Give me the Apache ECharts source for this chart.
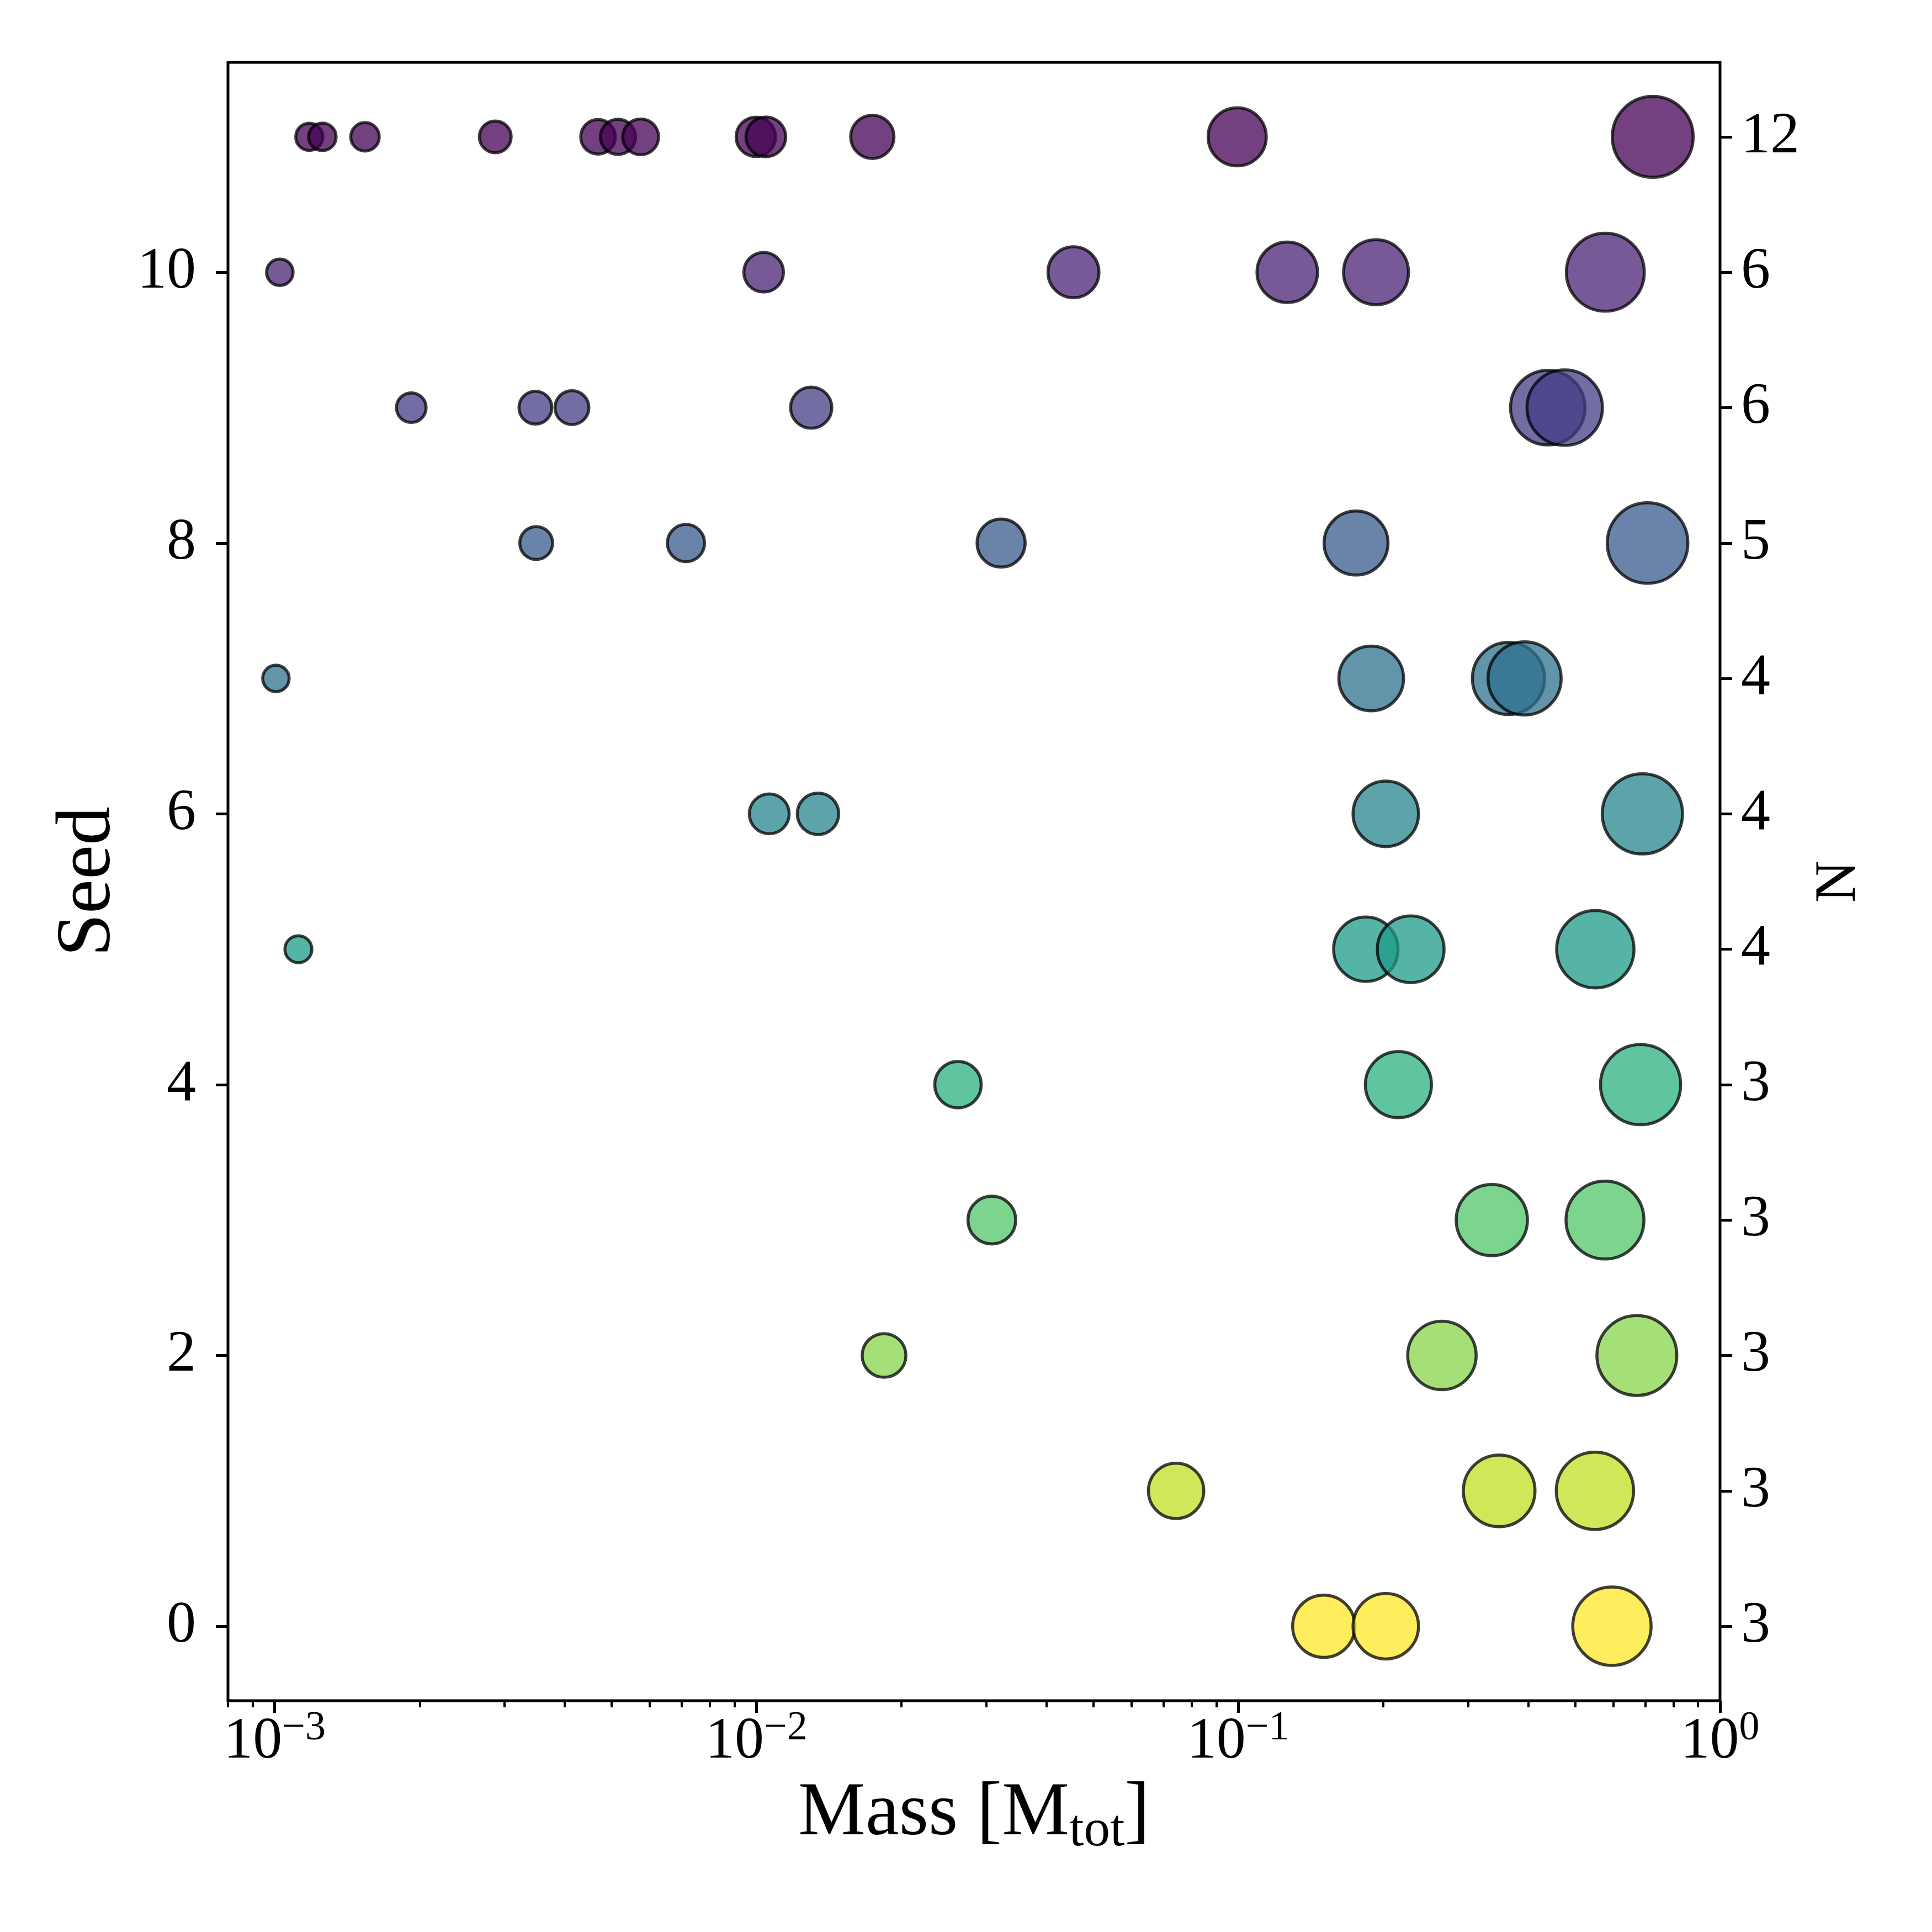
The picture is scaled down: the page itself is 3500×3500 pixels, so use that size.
<!DOCTYPE html>
<html>
<head>
<meta charset="utf-8">
<script src="https://cdn.jsdelivr.net/npm/echarts@6/dist/echarts.min.js"></script>
<style>
html,body{margin:0;padding:0;background:#fff;}
#chart{width:3500px;height:3500px;}
</style>
</head>
<body>
<div id="chart"></div>
<script>
// ---- data ----
const seeds = [0,1,2,3,4,5,6,7,8,9,10,11];
const nLabels = ['3','3','3','3','3','4','4','4','5','6','6','12'];
const mass0  = [0.1505, 0.2024, 0.5965];
const mass1  = [0.0743, 0.348, 0.550];
const mass2  = [0.0184, 0.2647, 0.672];
const mass3  = [0.0308, 0.336, 0.577];
const mass4  = [0.0262, 0.215, 0.684];
const mass5  = [0.00112, 0.184, 0.228, 0.551];
const mass6  = [0.01063, 0.01342, 0.2024, 0.690];
const mass7  = [0.001006, 0.1888, 0.3638, 0.393];
const mass8  = [0.00349, 0.00714, 0.0322, 0.1756, 0.7073];
const mass9  = [0.001921, 0.003477, 0.00414, 0.01299, 0.439, 0.476];
const mass10 = [0.001025, 0.01035, 0.0455, 0.1264, 0.1932, 0.578];
const mass11 = [0.00118, 0.001256, 0.00154, 0.00287, 0.00469, 0.00516, 0.00575, 0.00997, 0.01046, 0.0174, 0.0995, 0.725];
const massBySeed = [mass0, mass1, mass2, mass3, mass4, mass5, mass6, mass7, mass8, mass9, mass10, mass11];

const xMajorTicks = [1e-3, 1e-2, 1e-1, 1];
const xMinorTicks = [8e-4, 9e-4,
  2e-3, 3e-3, 4e-3, 5e-3, 6e-3, 7e-3, 8e-3, 9e-3,
  2e-2, 3e-2, 4e-2, 5e-2, 6e-2, 7e-2, 8e-2, 9e-2,
  2e-1, 3e-1, 4e-1, 5e-1, 6e-1, 7e-1, 8e-1, 9e-1];
const yLeftTicks = [0, 2, 4, 6, 8, 10];
const yRightTicks = seeds;

// viridis sampled at 12 levels (seed 11 -> dark, seed 0 -> yellow)
const viridis12 = ["#440154","#482173","#433E85","#38598C","#2D708E","#25858E",
                   "#1E9B8A","#2BB07F","#51C56A","#85D54A","#C2DF23","#FDE725"];

// ---- chart ----
const FONT = 'Liberation Serif';
const chart = echarts.init(document.getElementById('chart'), null, {renderer: 'canvas'});

const series = seeds.map(function (s) {
  return {
    type: 'scatter',
    xAxisIndex: 0,
    yAxisIndex: 0,
    data: massBySeed[s].map(function (m) { return [m, s]; }),
    symbol: 'circle',
    symbolSize: function (val) { return 159.6 * Math.pow(val[0], 0.16) - 5; },
    itemStyle: {
      color: viridis12[11 - s],
      opacity: 0.75,
      borderColor: '#000',
      borderWidth: 5.5
    },
    emphasis: {disabled: true},
    silent: true,
    z: 2
  };
});

const option = {
  animation: false,
  backgroundColor: '#fff',
  grid: {
    left: 413, right: 384, top: 113, bottom: 419,
    show: true, borderColor: '#000', borderWidth: 5,
    backgroundColor: 'transparent',
    containLabel: false,
    outerBoundsMode: 'none'
  },
  xAxis: [
    {
      type: 'log', logBase: 10, min: 8e-4, max: 1,
      position: 'bottom',
      axisLine: {show: false, onZero: false},
      splitLine: {show: false},
      minorTick: {show: false},
      axisTick: {show: true, inside: false, length: 22, customValues: xMajorTicks,
        lineStyle: {color: '#000', width: 5}},
      axisLabel: {
        show: true, margin: 22, customValues: xMajorTicks,
        formatter: function (v) {
          const e = Math.round(Math.log10(v));
          const t = e < 0 ? '\u2212' + (-e) : String(e);
          return '{b|10}{s|' + t + '}';
        },
        rich: {
          b: {fontFamily: FONT, fontSize: 106, lineHeight: 106, color: '#000', verticalAlign: 'bottom'},
          s: {fontFamily: FONT, fontSize: 74, lineHeight: 74, color: '#000', verticalAlign: 'bottom', padding: [0, 0, 40, 0]}
        }
      },
      name: '{a|Mass [M}{t|tot}{a|]}',
      nameLocation: 'middle',
      nameGap: 148,
      nameTextStyle: {
        rich: {
          a: {fontFamily: FONT, fontSize: 137, lineHeight: 137, color: '#000', verticalAlign: 'bottom', padding: [0, 0, 10, 0]},
          t: {fontFamily: FONT, fontSize: 95, lineHeight: 95, color: '#000', verticalAlign: 'bottom'}
        }
      }
    },
    {
      type: 'log', logBase: 10, min: 8e-4, max: 1,
      position: 'bottom', gridIndex: 0,
      axisLine: {show: false, onZero: false},
      splitLine: {show: false},
      axisLabel: {show: false},
      axisTick: {show: true, inside: false, length: 12, customValues: xMinorTicks,
        lineStyle: {color: '#000', width: 4}}
    }
  ],
  yAxis: [
    {
      type: 'value', min: -0.55, max: 11.55,
      position: 'left',
      axisLine: {show: false, onZero: false},
      splitLine: {show: false},
      axisTick: {show: true, inside: false, length: 22, customValues: yLeftTicks,
        lineStyle: {color: '#000', width: 5}},
      axisLabel: {show: true, margin: 58, customValues: yLeftTicks,
        fontFamily: FONT, fontSize: 106, color: '#000'},
      name: 'Seed',
      nameLocation: 'middle',
      nameRotate: 90,
      nameGap: 182,
      nameTextStyle: {fontFamily: FONT, fontSize: 140, color: '#000'}
    },
    {
      type: 'value', min: -0.55, max: 11.55,
      position: 'right',
      axisLine: {show: false, onZero: false},
      splitLine: {show: false},
      axisTick: {show: true, inside: false, length: 22, customValues: yRightTicks,
        lineStyle: {color: '#000', width: 5}},
      axisLabel: {show: true, margin: 38, customValues: yRightTicks,
        fontFamily: FONT, fontSize: 106, color: '#000',
        formatter: function (v) { return nLabels[Math.round(v)]; }},
      name: 'N',
      nameLocation: 'middle',
      nameRotate: 90,
      nameGap: 163,
      nameTextStyle: {fontFamily: FONT, fontSize: 106, color: '#000'}
    }
  ],
  series: series
};
chart.setOption(option);
</script>
</body>
</html>
